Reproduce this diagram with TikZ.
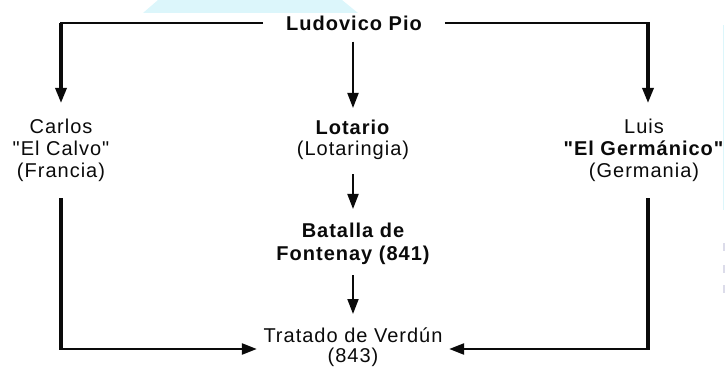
\documentclass[tikz,border=0pt]{standalone}
\usepackage{fontspec}
\setmainfont{Liberation Sans}[LetterSpace=5, Ligatures=TeXOff]
\usetikzlibrary{arrows.meta}
\definecolor{ink}{HTML}{0A0A0A}
\definecolor{paleCyan}{HTML}{DCF6FB}
\definecolor{paleMark}{HTML}{DCDCEA}
\tikzset{
  txt/.style={inner sep=0pt, text=ink, align=center, anchor=north},
  thinln/.style={draw=ink, line width=1.6pt},
  thickln/.style={draw=ink, line width=3.2pt},
  arr/.style={draw=ink, -{Triangle[length=15pt,width=11pt]}},
}
\begin{document}
\begin{tikzpicture}[x=1pt,y=-1pt]
\useasboundingbox (0,0) rectangle (725,371);
% faint background artefacts
\fill[paleCyan] (143,13) -- (158,0) -- (342,0) -- (358,13) -- cycle;
\fill[paleCyan] (722.5,25) rectangle (724,210);
\fill[paleMark] (722.5,243) rectangle (725,251);
\fill[paleMark] (722.5,265) rectangle (725,273);
\fill[paleMark] (722.5,285) rectangle (725,293);
% nodes
\node[inner ysep=0pt, inner xsep=23pt, text=ink, font={\fontsize{20}{22}\selectfont\bfseries}] (lp) at (354,23) {Ludovico Pio};
\node[txt, font={\fontsize{20}{22}\selectfont}] (carlos) at (61,119) {Carlos\\"El Calvo"\\(Francia)};
\node[txt, font={\fontsize{20}{21}\selectfont}] (lot) at (353,120) {\textbf{Lotario}\\(Lotaringia)};
\node[txt, font={\fontsize{20}{22}\selectfont}] (luis) at (644,119) {Luis\\\textbf{"El Germánico"}\\(Germania)};
\node[txt, font={\fontsize{20}{23}\selectfont\bfseries}] (bat) at (353,223) {Batalla de\\Fontenay (841)};
\node[txt, inner xsep=6.5pt, font={\fontsize{20}{20}\selectfont}] (tra) at (353,328) {Tratado de Verdún\\(843)};
% corner coordinates
\coordinate (cL) at (61,23);
\coordinate (cR) at (648,23);
\coordinate (bL) at (61,349);
\coordinate (bR) at (648,349);
% top connectors
\draw[thinln] (lp.west) -- ([xshift=-1.5pt]cL);
\draw[thinln] (lp.east) -- ([xshift=1.5pt]cR);
\draw[arr, line width=3.2pt, shorten >=16pt] (cL) -- (carlos.north);
\draw[arr, line width=3.2pt, shorten >=16pt] (cR) -- (cR |- luis.north);
\draw[arr, line width=1.9pt, shorten <=11pt, shorten >=12pt] (lp.south -| lot.north) -- (lot.north);
% middle column
\draw[arr, line width=1.9pt, shorten <=14pt, shorten >=14pt] (lot.south) -- (bat.north);
\draw[arr, line width=1.9pt, shorten <=10pt, shorten >=14pt] (bat.south) -- (tra.north);
% bottom connectors
\draw[thickln, shorten <=16pt] (carlos.south) -- ([yshift=1.2pt]bL);
\draw[thickln, shorten <=16pt] (cR |- luis.south) -- ([yshift=1.2pt]bR);
\draw[arr, line width=2.4pt] ([xshift=-1.6pt]bL) -- (tra.west |- bL);
\draw[arr, line width=2.4pt] ([xshift=1.6pt]bR) -- (tra.east |- bR);
\end{tikzpicture}
\end{document}
